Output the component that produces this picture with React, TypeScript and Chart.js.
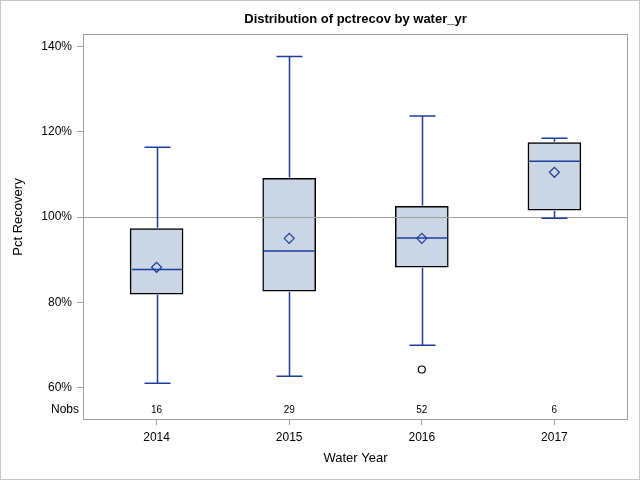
import React, { useEffect, useRef } from "react";
import { Chart, registerables } from "chart.js";

Chart.register(...registerables);

const CATEGORIES = ["2014", "2015", "2016", "2017"];
const WHISKER_LOW = [61.0, 62.6, 69.9, 99.7];
const Q1 = [81.9, 82.6, 88.2, 101.6];
const MEDIAN = [87.7, 92.0, 95.1, 113.1];
const Q3 = [97.3, 109.1, 102.5, 117.5];
const WHISKER_HIGH = [116.4, 137.7, 123.7, 118.5];
const MEAN = [88.2, 95.0, 95.0, 110.5];
const OUTLIER_CAT = [2];
const OUTLIER_VAL = [64.2];
const NOBS = [16, 29, 52, 6];
const Y_TICKS = [60, 80, 100, 120, 140];
const REF_LINE = 100;

const BLUE = "#1B3F9A";
const FILL = "#CAD5E5";
const FRAME = "#A0A0A0";
const FONT = "'Liberation Sans', Arial, sans-serif";

const boxPlugin = {
  id: "boxExtras",
  beforeDraw(chart: any) {
    const { ctx, width, height } = chart;
    ctx.save();
    ctx.fillStyle = "#fff";
    ctx.fillRect(0, 0, width, height);
    ctx.strokeStyle = "#C8C8C8";
    ctx.lineWidth = 1;
    ctx.strokeRect(0.5, 0.5, width - 1, height - 1);
    ctx.restore();
  },
  afterDatasetDraw(chart: any, args: any) {
    if (args.meta.type !== "bar") return;
    const { ctx, chartArea } = chart;
    const xs = chart.scales.x;
    const ys = chart.scales.y;
    ctx.save();
    const ry = Math.round(ys.getPixelForValue(REF_LINE)) + 0.5;
    ctx.strokeStyle = FRAME;
    ctx.lineWidth = 1;
    ctx.beginPath();
    ctx.moveTo(chartArea.left, ry);
    ctx.lineTo(chartArea.right, ry);
    ctx.stroke();
    const boxW = 53;
    const capW = 26;
    ctx.strokeStyle = BLUE;
    ctx.lineWidth = 1.5;
    CATEGORIES.forEach((_, i) => {
      const x = Math.round(xs.getPixelForValue(i)) + 0.5;
      const yHi = ys.getPixelForValue(WHISKER_HIGH[i]);
      const yQ3 = ys.getPixelForValue(Q3[i]);
      const yQ1 = ys.getPixelForValue(Q1[i]);
      const yLo = ys.getPixelForValue(WHISKER_LOW[i]);
      const yMed = ys.getPixelForValue(MEDIAN[i]);
      ctx.beginPath();
      ctx.moveTo(x, yQ3 - 0.75);
      ctx.lineTo(x, yHi);
      ctx.moveTo(x - capW / 2, yHi);
      ctx.lineTo(x + capW / 2, yHi);
      ctx.moveTo(x, yQ1 + 0.75);
      ctx.lineTo(x, yLo);
      ctx.moveTo(x - capW / 2, yLo);
      ctx.lineTo(x + capW / 2, yLo);
      ctx.moveTo(x - boxW / 2 + 1, yMed);
      ctx.lineTo(x + boxW / 2 - 1, yMed);
      ctx.stroke();
    });
    ctx.restore();
  },
  afterDraw(chart: any) {
    const { ctx, chartArea } = chart;
    const xs = chart.scales.x;
    const ys = chart.scales.y;
    ctx.save();
    ctx.strokeStyle = FRAME;
    ctx.lineWidth = 1;
    ctx.strokeRect(
      Math.round(chartArea.left) + 0.5,
      Math.round(chartArea.top) + 0.5,
      Math.round(chartArea.right - chartArea.left) - 1,
      Math.round(chartArea.bottom - chartArea.top) - 1
    );
    const ny = chartArea.bottom - 10;
    ctx.fillStyle = "#000";
    ctx.textBaseline = "middle";
    ctx.font = `10px ${FONT}`;
    ctx.textAlign = "center";
    NOBS.forEach((n, i) => {
      ctx.fillText(String(n), xs.getPixelForValue(i), ny);
    });
    ctx.font = `12px ${FONT}`;
    ctx.textAlign = "right";
    ctx.fillText("Nobs", chartArea.left - 4, ny);
    const ty = (ys.getPixelForValue(Y_TICKS[0]) + ys.getPixelForValue(Y_TICKS[Y_TICKS.length - 1])) / 2;
    ctx.translate(18, ty);
    ctx.rotate(-Math.PI / 2);
    ctx.font = `13px ${FONT}`;
    ctx.textAlign = "center";
    ctx.fillText("Pct Recovery", 0, 0);
    ctx.restore();
  },
};

export default function App() {
  const ref = useRef<HTMLCanvasElement>(null);
  useEffect(() => {
    if (!ref.current) return;
    Chart.defaults.font.family = FONT;
    Chart.defaults.color = "#000";
    const chart = new Chart(ref.current, {
      type: "bar",
      data: {
        datasets: [
          {
            type: "scatter",
            label: "Mean",
            order: 1,
            data: MEAN.map((v, i) => ({ x: i, y: v })),
            pointStyle: "rectRot",
            pointRadius: 5,
            pointBorderWidth: 1.2,
            pointBorderColor: BLUE,
            pointBackgroundColor: "rgba(0,0,0,0)",
          } as any,
          {
            type: "scatter",
            label: "Outlier",
            order: 2,
            data: OUTLIER_VAL.map((v, i) => ({ x: OUTLIER_CAT[i], y: v })),
            pointStyle: "circle",
            pointRadius: 3.5,
            pointBorderWidth: 1.2,
            pointBorderColor: "#000",
            pointBackgroundColor: "#fff",
          } as any,
          {
            type: "bar",
            label: "Box",
            order: 3,
            data: Q1.map((v, i) => ({ x: i, y: [v, Q3[i]] })),
            backgroundColor: FILL,
            borderColor: "#000",
            borderWidth: 1.5,
            borderSkipped: false,
            barThickness: 53,
          } as any,
        ],
      },
      options: {
        animation: false,
        responsive: true,
        maintainAspectRatio: false,
        layout: { padding: { left: 0, right: 12, top: 0, bottom: 0 } },
        plugins: {
          legend: { display: false },
          tooltip: { enabled: false },
          title: {
            display: true,
            text: "Distribution of pctrecov by water_yr",
            fullSize: false,
            color: "#000",
            font: { size: 13, weight: "bold", family: FONT },
            padding: { top: 12, bottom: 6.4 },
          },
        },
        scales: {
          x: {
            type: "linear",
            offset: false,
            min: -0.555,
            max: 3.555,
            afterFit(scale: any) {
              scale.height = 60;
            },
            afterBuildTicks(scale: any) {
              scale.ticks = CATEGORIES.map((_, i) => ({ value: i }));
            },
            ticks: {
              callback: (v: any) => CATEGORIES[v] ?? "",
              font: { size: 12 },
              color: "#000",
              padding: 5,
              maxRotation: 0,
            },
            grid: { offset: false, drawOnChartArea: false, drawTicks: true, tickLength: 5, color: FRAME },
            border: { display: false },
            title: {
              display: true,
              text: "Water Year",
              font: { size: 13 },
              color: "#000",
              padding: { top: 0, bottom: 14 },
            },
          },
          y: {
            type: "linear",
            min: 52.35,
            max: 142.96,
            afterFit(scale: any) {
              scale.width = 83;
            },
            afterBuildTicks(scale: any) {
              scale.ticks = Y_TICKS.map((v) => ({ value: v }));
            },
            ticks: {
              callback: (v: any) => `${v}%`,
              font: { size: 12 },
              color: "#000",
              padding: 5,
            },
            grid: { drawOnChartArea: false, drawTicks: true, tickLength: 6, color: FRAME },
            border: { display: false },
          },
        },
      },
      plugins: [boxPlugin],
    });
    return () => chart.destroy();
  }, []);
  return (
    <div style={{ position: "absolute", left: 0, top: 0, width: 640, height: 480 }}>
      <canvas ref={ref} />
    </div>
  );
}
